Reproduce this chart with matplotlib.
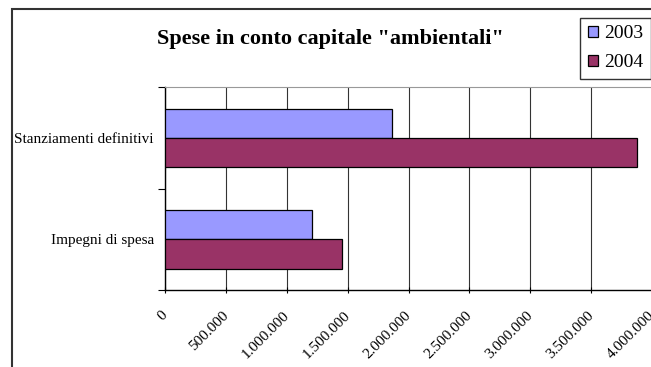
import matplotlib
matplotlib.use("Agg")
import matplotlib.pyplot as plt
import numpy as np
from matplotlib.patches import Rectangle
from matplotlib.ticker import FuncFormatter, MultipleLocator
from matplotlib.transforms import ScaledTranslation

categories = ["Impegni di spesa", "Stanziamenti definitivi"]
series_names = ["2003", "2004"]
values_2003 = [1205000, 1866000]
values_2004 = [1456000, 3880000]
colors = ["#9999FF", "#993366"]
title = 'Spese in conto capitale "ambientali"'

plt.rcParams['font.family'] = ['Liberation Serif', 'DejaVu Serif']

W, H = 651, 367
fig = plt.figure(figsize=(W / 100, H / 100), dpi=100)
ax = fig.add_axes([165 / W, 1 - 290 / H, (652 - 165) / W, (290 - 87.3) / H])

y = np.arange(len(categories))
h = 0.289
ax.barh(y + h / 2, values_2003, height=h, color=colors[0], edgecolor="black",
        linewidth=0.9, label=series_names[0], zorder=3)
ax.barh(y - h / 2, values_2004, height=h, color=colors[1], edgecolor="black",
        linewidth=0.9, label=series_names[1], zorder=3)

ax.set_xlim(0, 4000000)
ax.set_ylim(-0.5, len(categories) - 0.5)
ax.xaxis.set_major_locator(MultipleLocator(500000))


def fmt(v, pos):
    return f"{int(round(v)):,}".replace(",", ".")


ax.xaxis.set_major_formatter(FuncFormatter(fmt))
ax.grid(axis="x", color="#333333", linewidth=0.8, zorder=0)

ax.set_yticks(y)
ax.set_yticklabels(categories, fontsize=11)
ax.tick_params(axis="y", length=0, pad=8)
ax.set_yticks([-0.5, 0.5, 1.5], minor=True)
ax.tick_params(axis="y", which="minor", length=5, width=0.8, direction="out")
ax.tick_params(axis="x", length=5, width=0.8, direction="inout", pad=11)
offset = ScaledTranslation(-4 / 100, 0, fig.dpi_scale_trans)
for lbl in ax.get_xticklabels():
    lbl.set_rotation(45)
    lbl.set_ha("right")
    lbl.set_va("top")
    lbl.set_rotation_mode("anchor")
    lbl.set_fontsize(11)
    lbl.set_transform(lbl.get_transform() + offset)

for s in ["left", "bottom"]:
    ax.spines[s].set_color("black")
    ax.spines[s].set_linewidth(1.0)
ax.spines["top"].set_color("#999999")
ax.spines["right"].set_color("#999999")

fig.text(330 / W, 1 - 39 / H, title, ha="center", va="center",
         fontsize=16, fontweight="bold")

leg = ax.legend(loc="upper left", bbox_to_anchor=(580 / W, 1 - 17.7 / H),
                bbox_transform=fig.transFigure, fontsize=14, frameon=True,
                fancybox=False, edgecolor="black", borderaxespad=0,
                handlelength=0.5, handleheight=0.5, handletextpad=0.36,
                labelspacing=0.6, borderpad=0.4)
leg.get_frame().set_linewidth(1.0)

fig.patches.append(Rectangle((11.7 / W, -0.1), 1.2, 1 - 9.3 / H + 0.1,
                             transform=fig.transFigure, fill=False,
                             edgecolor="#333333", linewidth=1.5))

fig.savefig("out.png", dpi=100)
